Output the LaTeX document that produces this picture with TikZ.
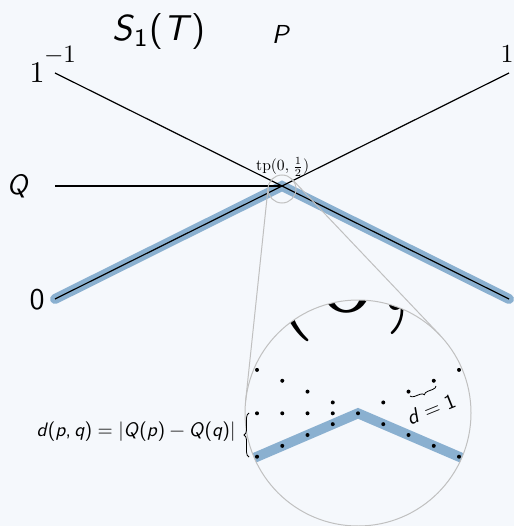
\documentclass[tikz,border=0pt]{standalone}
\usetikzlibrary{decorations.pathreplacing}
\definecolor{bgc}{RGB}{245,248,252}
\definecolor{bandc}{RGB}{138,176,208}
\definecolor{lensc}{RGB}{192,192,192}
\newcommand\sfi[1]{\textsf{\textit{#1}}}
\newcommand\szz[2]{\scalebox{#1}{#2}}
\tikzset{
  thinln/.style={black,line width=1.2pt},
  bandline/.style={bandc,line width=10pt,line cap=round},
  lens/.style={lensc,line width=1pt},
  dot/.style={circle,fill=black,inner sep=0pt,minimum size=4pt},
  lbl/.style={inner sep=0pt,font=\fontsize{10}{12}\selectfont},
  bracedeco/.style={decorate,decoration={brace,amplitude=#1},black,line width=0.8pt},
}
\begin{document}
\begin{tikzpicture}[x=1pt,y=-1pt]
\fill[bgc] (0,0) rectangle (514,526);
\useasboundingbox (0,0) rectangle (514,526);

\coordinate (L0) at (55,299);
\coordinate (L1) at (55,73);
\coordinate (R0) at (509,299);
\coordinate (R1) at (509,73);
\coordinate (A) at (282,186);
\coordinate (Qs) at (55,186);

\draw[bandline] (L0) -- (A) -- (R0);
\draw[thinln] (L1) -- (R0);
\draw[thinln] (L0) -- (R1);
\draw[thinln] (Qs) -- (A);

\node[lbl] (s1t) at (159,32) {\szz{3.6}{\textsf{\textit{S}\textsubscript{1}(\textit{T\/})}}};
\node[lbl] (p) at (281,34) {\szz{2.6}{\sfi{P}}};
\node[lbl,anchor=base] (one) at (37,83) {\szz{3.0}{$1$}};
\node[lbl,anchor=base] (mone) at (60,63) {\szz{2.5}{$-1$}};
\node[lbl,anchor=base] (rone) at (507,63) {\szz{2.6}{$1$}};
\node[lbl] (q) at (18,186) {\szz{2.8}{\sfi{Q}}};
\node[lbl] (zero) at (37,300) {\szz{3.0}{\textsf{0}}};
\node[lbl,anchor=base west] (tp) at (256,171) {\szz{1.56}{$\mathrm{tp}(0,\mkern1.5mu\frac12)$}};

\coordinate (bc) at (358,413);
\coordinate (sc) at (282,189);
\begin{scope}
  \clip (bc) circle[radius=113];
  \coordinate (mL) at (240,464);
  \coordinate (mA) at (358,413.3);
  \coordinate (mR) at (476,464);
  \draw[bandline,line cap=butt] (mL) -- (mA) -- (mR);
  \foreach \i in {-4,...,4} {
    \pgfmathsetmacro\ai{abs(\i)}
    \node[dot] (lo\i) at (358+25.25*\i, 413.3+10.85*\ai) {};
  }
  \foreach \i in {-4,-3,-2,-1,1,2,3,4} {
    \pgfmathsetmacro\ai{abs(\i)}
    \node[dot] (up\i) at (358+25.25*\i, 413.3-10.85*\ai) {};
  }
  \foreach \i in {-4,-3,-2,-1} {
    \node[dot] (mid\i) at (358+25.25*\i, 413.3) {};
  }
  \node[lbl,anchor=base west] (bigtp) at (149,310) {\szz{12.5}{$\mathrm{tp}(0,\mkern1.5mu\frac12)$}};
\end{scope}
\draw[lens] (bc) circle[radius=113];
\draw[lens] (sc) circle[radius=14];
\coordinate (t1a) at (268.1,187.5);
\coordinate (t1b) at (245.6,401.2);
\coordinate (t2a) at (292.2,179.4);
\coordinate (t2b) at (440.0,335.2);
\draw[lens] (t1a) -- (t1b);
\draw[lens] (t2a) -- (t2b);

\coordinate (brA) at (249,457);
\coordinate (brB) at (249,413);
\draw[bracedeco=5pt] (brA) -- (brB);
\coordinate (brC) at (436,386);
\coordinate (brD) at (410,396);
\draw[bracedeco=4pt] (brC) -- (brD);

\node[lbl] (dist) at (136,432) {\szz{1.95}{\textsf{\textit{d}(\textit{p},\hspace{0.17em}\textit{q})\hspace{0.28em}=\hspace{0.28em}|\textit{Q}(\textit{p})\hspace{0.22em}−\hspace{0.22em}\textit{Q}(\textit{q})|}}};
\node[lbl,rotate=22] (d1) at (431,409) {\szz{2.1}{\textsf{\textit{d}\hspace{0.28em}=\hspace{0.28em}1}}};
\end{tikzpicture}
\end{document}
